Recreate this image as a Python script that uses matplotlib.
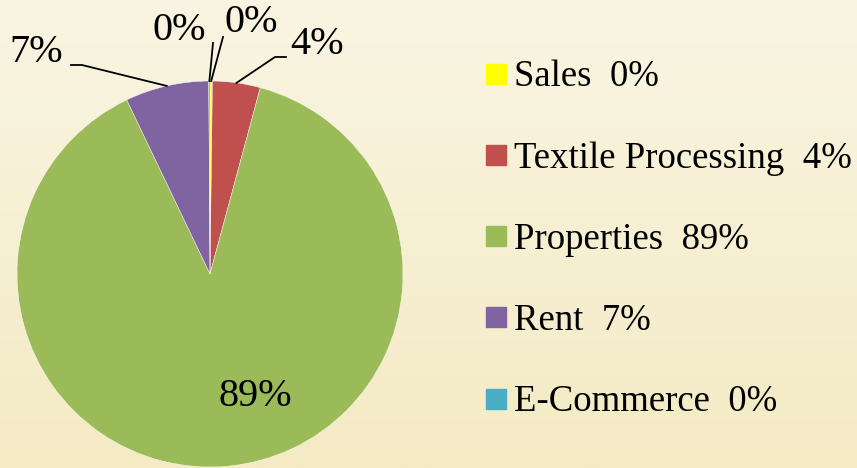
import numpy as np
import matplotlib.pyplot as plt
from matplotlib.lines import Line2D

labels = ['Sales', 'Textile Processing', 'Properties', 'Rent', 'E-Commerce']
values = [0.2, 4.0, 88.7, 7.0, 0.1]
pct_text = ['0%', '4%', '89%', '7%', '0%']
colors = ['#FFFF00', '#C0504D', '#9BBB59', '#8064A2', '#4BACC6']

plt.rcParams['font.family'] = ['Liberation Serif', 'DejaVu Serif']

W, H = 857, 468
fig = plt.figure(figsize=(W / 100, H / 100), dpi=100)

# background gradient, cream to light yellow
bg = fig.add_axes([0, 0, 1, 1])
top = np.array([249, 245, 226]) / 255
bot = np.array([244, 234, 196]) / 255
t = np.linspace(0, 1, 256)[:, None]
grad = top * (1 - t) + bot * t
bg.imshow(grad[:, None, :], aspect='auto', extent=[0, 1, 0, 1])
bg.axis('off')

cx, cy, R = 210, 274, 193
ax = fig.add_axes([(cx - R) / W, (H - cy - R) / H, 2 * R / W, 2 * R / H])
wedges, _ = ax.pie(values, colors=colors, startangle=90, counterclock=False,
                   radius=1, wedgeprops=dict(edgecolor='white', linewidth=0.3))
ax.set_xlim(-1, 1)
ax.set_ylim(-1, 1)
ax.set_aspect('equal')
ax.axis('off')


def px(x, y):
    return (x - cx) / R, (cy - y) / R


# label positions (pixels) and leader line elbows
lab_pos = {0: (251, 22), 1: (317, 45), 3: (36, 52), 4: (179, 30)}
elbows = {0: [(223, 37)], 1: [(275, 57), (286, 57)], 3: [(82, 65), (71, 65)], 4: [(213, 43)]}

total = sum(values)
cum = 0
for i, v in enumerate(values):
    mid = 90 - (cum + v / 2) / total * 360
    cum += v
    if i == 2:
        ax.text(*px(255, 396), pct_text[i], fontsize=29, ha='center', va='center')
        continue
    ax0 = np.cos(np.radians(mid))
    ay0 = np.sin(np.radians(mid))
    pts = [(ax0, ay0)] + [px(*p) for p in elbows[i]]
    xs, ys = zip(*pts)
    ax.plot(xs, ys, color='black', lw=1.3, clip_on=False)
    ax.text(*px(*lab_pos[i]), pct_text[i], fontsize=29, ha='center', va='center')

handles = [Line2D([], [], marker='s', ls='', color=c, markersize=13.7) for c in colors]
leg_labels = ['%s  %s' % (l, p) for l, p in zip(labels, pct_text)]
fig.legend(handles, leg_labels, loc='upper left', bbox_to_anchor=(485 / W, 1 - 60 / H),
           frameon=False, fontsize=26.5, handlelength=0.6, handletextpad=0.2,
           labelspacing=1.27, borderpad=0, borderaxespad=0)

fig.savefig('out.png', dpi=100)
